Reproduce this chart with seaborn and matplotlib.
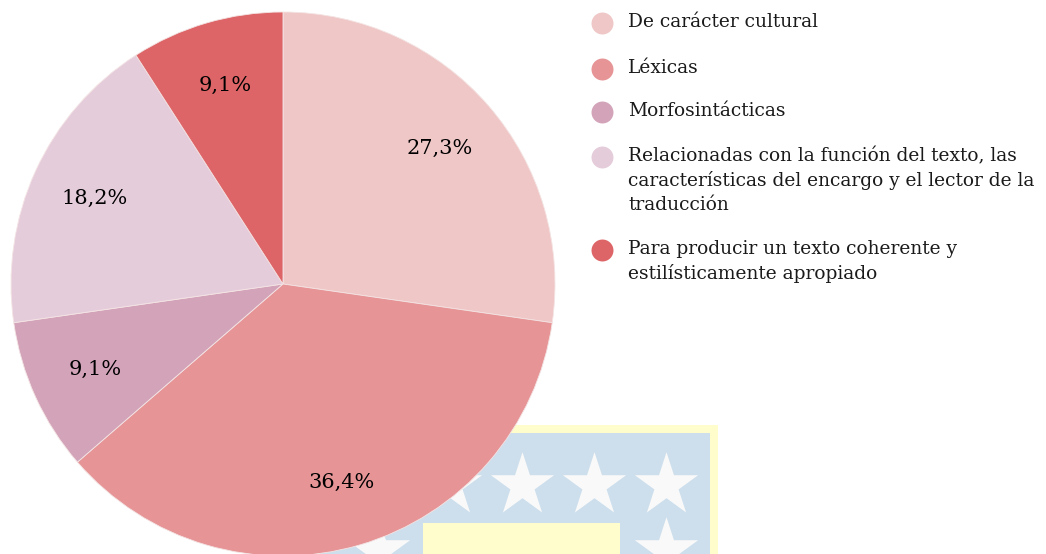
import matplotlib
matplotlib.use("Agg")
import matplotlib.pyplot as plt
from matplotlib.patches import Rectangle
import seaborn as sns

# data
categories = [
    "De carácter cultural",
    "Léxicas",
    "Morfosintácticas",
    "Relacionadas con la función del texto, las\ncaracterísticas del encargo y el lector de la\ntraducción",
    "Para producir un texto coherente y\nestilísticamente apropiado",
]
values = [27.3, 36.4, 9.1, 18.2, 9.1]
colors = ["#F0C7C7", "#E69496", "#D3A4B9", "#E5CCDB", "#DD6567"]

sns.set_style("white")
plt.rcParams["font.family"] = ["DejaVu Serif"]

W, H = 1046, 554
fig = plt.figure(figsize=(W / 100, H / 100), dpi=100)

# background watermark (pixel coords)
bg = fig.add_axes([0, 0, 1, 1])
bg.set_xlim(0, W)
bg.set_ylim(H, 0)
bg.axis("off")
bg.add_patch(Rectangle((313, 425), 405, 140, color="#FFFDCB", lw=0))
bg.add_patch(Rectangle((320, 433), 390, 130, color="#CDDFEC", lw=0))
bg.add_patch(Rectangle((423, 523), 197, 40, color="#FFFDCB", lw=0))
bg.scatter([450, 522, 594, 666, 378, 666], [485, 485, 485, 485, 550, 550],
           marker="*", s=2300, color="#F9F9F9", lw=0)

# pie
ax = fig.add_axes([0, 0, 1, 1])
ax.patch.set_alpha(0)
cx, cy, r = 283, 284, 272
wedges, _, autotexts = ax.pie(
    values, colors=colors, startangle=90, counterclock=False,
    autopct=lambda p: f"{p:.1f}%".replace(".", ","), pctdistance=0.76,
    wedgeprops=dict(edgecolor="#F4E4E4", linewidth=0.6),
    textprops=dict(fontsize=15, color="#000000"),
)
ax.set_aspect("auto")
ax.set_xlim(-cx / r, (W - cx) / r)
ax.set_ylim(-(H - cy) / r, cy / r)
ax.axis("off")

# legend drawn by hand so markers align with first line
legend_y = [23, 69, 112, 157, 250]
for lab, col, y in zip(categories, colors, legend_y):
    bg.scatter([602], [y], s=250, color=col, lw=0)
    bg.text(628, y - 10, lab, fontsize=13.4, va="top", ha="left",
            color="#1a1a1a", linespacing=1.42)

fig.savefig("out.png", dpi=100)
